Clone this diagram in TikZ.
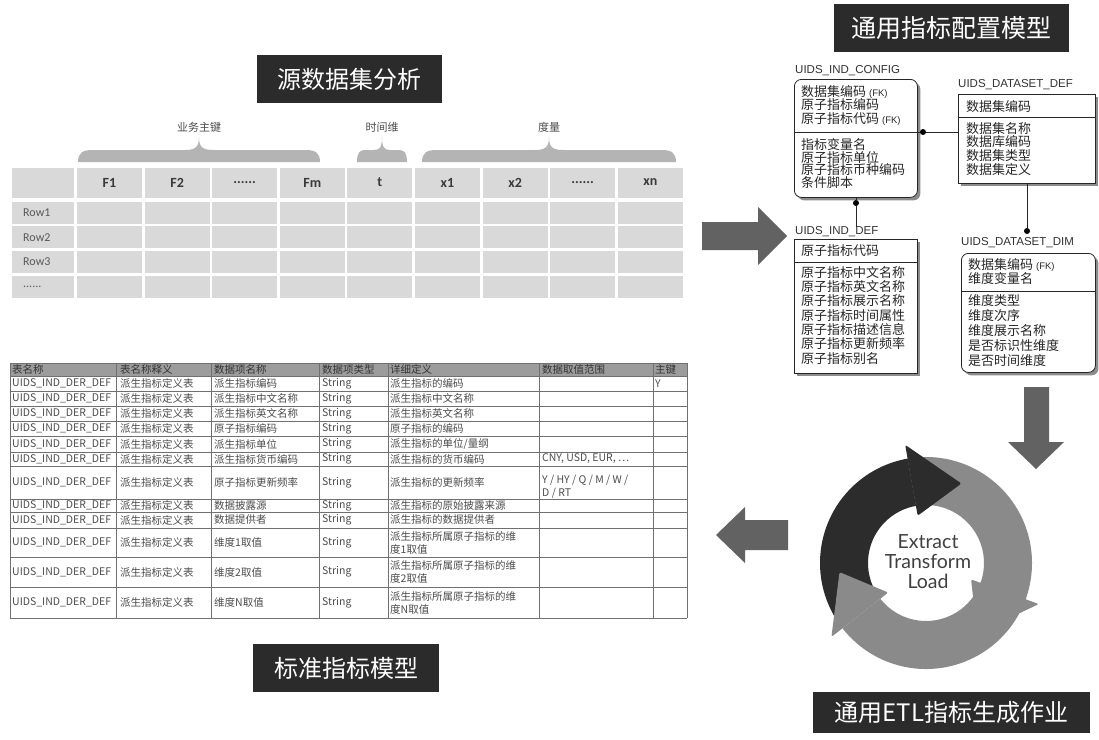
\documentclass[tikz,border=0pt]{standalone}
\usepackage{fontspec}
\setmainfont{Liberation Sans}
\newfontfamily\cjk{Noto Sans CJK SC}
\newfontfamily\calib{Carlito}
\newfontfamily\lato{Lato}
\usetikzlibrary{shadows}
\definecolor{titlebg}{HTML}{2B2B2B}
\definecolor{cellgray}{HTML}{D9D9D9}
\definecolor{bracegray}{HTML}{B4B4B4}
\definecolor{arrowgray}{HTML}{626262}
\definecolor{ringdark}{HTML}{2C2C2C}
\definecolor{ringgray}{HTML}{8A8A8A}
\definecolor{tabgray}{HTML}{707070}
\definecolor{headgray}{HTML}{9C9C9C}
\definecolor{txtgray}{HTML}{3A3A3A}

\newcommand{\fk}{{\rmfamily\fontsize{9.5pt}{9.5pt}\selectfont (FK)}}
\newcommand{\sixdots}{......}
\newcommand{\gbrace}[5]{%
  \pgfmathsetmacro\bmid{(#1+#2)/2}
  \fill[bracegray] (#1,162) .. controls (#1,153) and (#1+#3/3,150) .. (#1+#3,150)
    -- (\bmid-#3,150) .. controls (\bmid-#3/4,150) and (\bmid,147) .. (\bmid,137)
    .. controls (\bmid,147) and (\bmid+#3/4,150) .. (\bmid+#3,150)
    -- (#2-#3,150) .. controls (#2-#3/3,150) and (#2,153) .. (#2,162) -- cycle;
  \node[bracelab] (#4) at (\bmid,127) {#5};
}

\begin{document}
\begin{tikzpicture}[x=1pt, y=-1pt,
    titlebox/.style={fill=titlebg, text=white, inner sep=0pt, font=\cjk\fontsize{24pt}{24pt}\selectfont},
    hcell/.style={fill=cellgray, minimum width=65pt, minimum height=30pt, inner sep=0pt,
                  font=\calib\bfseries\fontsize{14pt}{14pt}\selectfont, text=txtgray},
    bcell/.style={fill=cellgray, minimum width=65pt, minimum height=22pt, inner sep=0pt},
    rowlab/.style={anchor=west, inner sep=0pt, font=\calib\fontsize{12pt}{12pt}\selectfont, text=black!65},
    bracelab/.style={inner sep=0pt, font=\cjk\fontsize{11pt}{11pt}\selectfont, text=black!70},
    tabline/.style={draw=tabgray, line width=0.8pt},
    tcell/.style={anchor=west, inner sep=0pt, align=left, font=\cjk\fontsize{10.5pt}{13pt}\selectfont, text=black!70},
    erbox/.style={draw=black!85, line width=0.8pt, fill=white, anchor=north west, inner sep=0pt,
                  drop shadow={shadow xshift=3pt, shadow yshift=-3pt, fill=black!45, opacity=1}},
    ertitle/.style={anchor=west, inner sep=0pt, font=\fontsize{11.5pt}{11.5pt}\selectfont, text=black!80},
    ertext/.style={anchor=north west, inner sep=0pt, align=left, text=black!85,
                   font=\cjk\fontsize{13pt}{#1}\selectfont},
    ertext/.default=13.5pt,
    erline/.style={draw=black!85, line width=0.8pt},
    erdot/.style={circle, fill=black, inner sep=0pt, minimum size=6pt},
    etltext/.style={align=center, inner sep=0pt, text=black!75, font=\lato\fontsize{19.5pt}{20pt}\selectfont}]

\useasboundingbox (0,0) rectangle (1099,739);
\fill[white] (0,0) rectangle (1099,739);

\node[titlebox, minimum width=185pt, minimum height=48pt] (srctitle) at (349.5,79) {源数据集分析};
\node[titlebox, minimum width=235pt, minimum height=48pt, font=\cjk\fontsize{25pt}{25pt}\selectfont] (cfgtitle) at (951.5,28) {通用指标配置模型};
\node[titlebox, minimum width=186pt, minimum height=48pt] (stdtitle) at (346,668) {标准指标模型};
\node[titlebox, minimum width=277pt, minimum height=41pt] (etltitle) at (951.5,712) {通用ETL指标生成作业};

\gbrace{78}{320}{14}{keylab}{业务主键}
\gbrace{357}{407}{8}{timelab}{时间维}
\gbrace{422}{676}{14}{measlab}{度量}

\node[hcell, minimum width=62pt] (h0) at (43,182.5) {};
\foreach \lab [count=\i] in {F1,F2,\sixdots,Fm,t,x1,x2,\sixdots,xn}{
  \pgfmathsetmacro\xc{109.5+67.6*(\i-1)}
  \node[hcell] (h\i) at (\xc,182.5) {\lab};
  \foreach \r in {1,...,4}
    \node[bcell] (c\i-\r) at (\xc,{212.5+24.8*(\r-1)}) {};
}
\foreach \lab [count=\r] in {Row1,Row2,Row3,\sixdots}{
  \node[bcell, minimum width=62pt] (c0-\r) at (43,{212.5+24.8*(\r-1)}) {};
  \node[rowlab] (rl\r) at (23,{212.5+24.8*(\r-1)}) {\lab};
}

\fill[arrowgray] (702,222) -- (758,222) -- (758,207) -- (787,236) -- (758,265) -- (758,250) -- (702,250) -- cycle;
\fill[arrowgray] (1024,387) -- (1049,387) -- (1049,442) -- (1064,442) -- (1036,469) -- (1008,442) -- (1024,442) -- cycle;
\fill[arrowgray] (788,520) -- (745,520) -- (745,507) -- (716,535) -- (745,563) -- (745,550) -- (788,550) -- cycle;

\node[erbox, rounded corners=7pt, minimum width=123pt, minimum height=118pt] (cfg) at (794,79) {};
\node[erbox, minimum width=137pt, minimum height=89pt] (dsdef) at (958,94) {};
\node[erbox, minimum width=123pt, minimum height=134pt] (inddef) at (794,239) {};
\node[erbox, rounded corners=7pt, minimum width=134pt, minimum height=119pt] (dsdim) at (961,253) {};
\draw[erline] (794,132) -- (917,132);
\draw[erline] (958,117) -- (1095,117);
\draw[erline] (794,262) -- (917,262);
\draw[erline] (961,291) -- (1095,291);

\node[ertitle] (cfgname) at (795,71) {UIDS\_IND\_CONFIG};
\node[ertitle] (dsdefname) at (958,85) {UIDS\_DATASET\_DEF};
\node[ertitle] (inddefname) at (795,232) {UIDS\_IND\_DEF};
\node[ertitle] (dsdimname) at (961,243) {UIDS\_DATASET\_DIM};

\node[ertext] (cfgkey) at (801,85) {数据集编码 \fk\\原子指标编码\\原子指标代码 \fk};
\node[ertext=12.8pt] (cfgatt) at (801,138) {指标变量名\\原子指标单位\\原子指标币种编码\\条件脚本};
\node[ertext] (dsdefkey) at (966,100) {数据集编码};
\node[ertext=13.7pt] (dsdefatt) at (966,122) {数据集名称\\数据库编码\\数据集类型\\数据集定义};
\node[ertext] (inddefkey) at (801,244) {原子指标代码};
\node[ertext=14.3pt] (inddefatt) at (801,266) {原子指标中文名称\\原子指标英文名称\\原子指标展示名称\\原子指标时间属性\\原子指标描述信息\\原子指标更新频率\\原子指标别名};
\node[ertext=14pt] (dsdimkey) at (968,258) {数据集编码 \fk\\维度变量名};
\node[ertext=15pt] (dsdimatt) at (968,294) {维度类型\\维度次序\\维度展示名称\\是否标识性维度\\是否时间维度};

\coordinate (cfgdiv) at (917,132);
\draw[erline] (cfgdiv) -- (cfgdiv -| dsdef.west);
\node[erdot] (dot1) at (923,132) {};
\node[erdot] (dot2) at (856,203) {};
\draw[erline] (dot2 |- cfg.south) -- (dot2) -- (dot2 |- inddefname.north);
\node[erdot] (dot3) at (1027,231) {};
\draw[erline] (dot3 |- dsdef.south) -- (dot3);

\fill[headgray] (10,363) rectangle (687,376);
\foreach \y in {363,376,391,406,421,436,452,466,499,512,528,557,587,618}
  \draw[tabline] (10,\y) -- (687,\y);
\foreach \x in {10,116,211,319,388,539,653,687}
  \draw[tabline] (\x,363) -- (\x,618);
\foreach \x/\t [count=\k] in {12/表名称,120/表名称释义,214/数据项名称,322/数据项类型,390/详细定义,542/数据取值范围,655/主键}
  \node[tcell, text=black!80] (th\k) at (\x,369.5) {\t};
\foreach \yc/\dname/\detail [count=\k] in {
    383.5/派生指标编码/派生指标的编码,
    398.5/派生指标中文名称/派生指标中文名称,
    413.5/派生指标英文名称/派生指标英文名称,
    428.5/原子指标编码/原子指标的编码,
    444/派生指标单位/派生指标的单位\slash 量纲,
    459/派生指标货币编码/派生指标的货币编码,
    482.5/原子指标更新频率/派生指标的更新频率,
    505.5/数据披露源/派生指标的原始披露来源,
    520/数据提供者/派生指标的数据提供者,
    542.5/维度1取值/派生指标所属原子指标的维\\度1取值,
    572/维度2取值/派生指标所属原子指标的维\\度2取值,
    602.5/维度N取值/派生指标所属原子指标的维\\度N取值}{
  \node[tcell] (tname\k) at (12,\yc) {UIDS\_IND\_DER\_DEF};
  \node[tcell] (tdesc\k) at (120,\yc) {派生指标定义表};
  \node[tcell] (titem\k) at (214,\yc) {\dname};
  \node[tcell] (ttype\k) at (322,\yc) {String};
  \node[tcell] (tdet\k) at (390,\yc) {\detail};
}
\node[tcell] (tkey) at (655,383.5) {Y};
\node[tcell] (tccy) at (542,459) {CNY, USD, EUR, …};
\node[tcell] (tfreq) at (542,487) {Y / HY / Q / M / W /\\D / RT};

\begin{scope}[shift={(926,563)}, y=1pt]
  \fill[ringgray] (102:106) arc[start angle=102, end angle=-20, radius=106] -- (-20:58) arc[start angle=-20, end angle=102, radius=58] -- cycle;
  \fill[ringgray] (-18:106) arc[start angle=-18, end angle=-142, radius=106] -- (-142:58) arc[start angle=-142, end angle=-18, radius=58] -- cycle;
  \fill[ringdark] (215:106) arc[start angle=215, end angle=100, radius=106] -- (100:58) arc[start angle=100, end angle=215, radius=58] -- cycle;
  \fill[ringgray, rounded corners=2pt] (-142:48) -- (-142:120) -- (-174:87) -- cycle;
  \fill[ringdark, rounded corners=2pt] (100:48) -- (100:120) -- (66:87) -- cycle;
  \fill[ringgray, rounded corners=2pt] (-20:48) -- (-20:120) -- (-54:87) -- cycle;
\end{scope}
\node[etltext] (etl) at (928,562) {Extract\\Transform\\Load};
\end{tikzpicture}
\end{document}
